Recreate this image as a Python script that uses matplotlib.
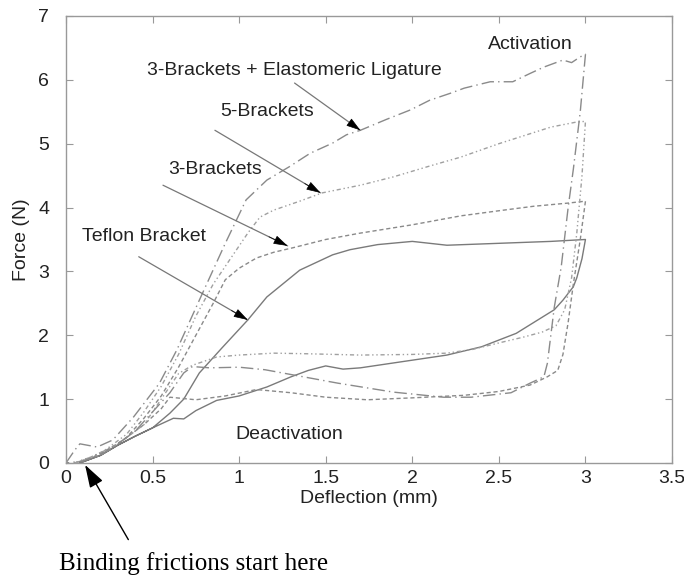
import matplotlib
matplotlib.use('Agg')
import matplotlib.pyplot as plt

# Teflon bracket (solid): activation then deactivation
teflon_x = [0.08, 0.2, 0.3, 0.4, 0.5, 0.6, 0.68, 0.77, 0.9, 1.05, 1.16, 1.35, 1.54,
            1.64, 1.8, 2.0, 2.2, 2.5, 2.8, 3.0,
            2.98, 2.95, 2.93, 2.87, 2.82, 2.6, 2.4, 2.2, 1.9, 1.7, 1.6, 1.5, 1.4,
            1.3, 1.16, 1.0, 0.87, 0.75, 0.68, 0.62, 0.5, 0.4, 0.3, 0.2, 0.08]
teflon_f = [0.0, 0.12, 0.28, 0.42, 0.55, 0.78, 1.0, 1.41, 1.8, 2.24, 2.6, 3.02, 3.26,
            3.34, 3.42, 3.47, 3.41, 3.44, 3.47, 3.5,
            3.2, 2.9, 2.76, 2.55, 2.4, 2.03, 1.82, 1.69, 1.57, 1.49, 1.47, 1.52, 1.45,
            1.35, 1.19, 1.05, 0.98, 0.82, 0.69, 0.7, 0.55, 0.42, 0.28, 0.12, 0.0]

# 3 brackets (short dashes)
three_x = [0.05, 0.2, 0.35, 0.45, 0.55, 0.65, 0.75, 0.85, 0.92, 1.0, 1.1, 1.2, 1.31,
           1.5, 1.7, 2.0, 2.28, 2.5, 2.7, 2.9, 3.0,
           2.97, 2.93, 2.9, 2.87, 2.84, 2.78, 2.68, 2.5, 2.3, 2.0, 1.74, 1.5, 1.3,
           1.1, 0.92, 0.75, 0.6, 0.55, 0.45, 0.3, 0.15, 0.05]
three_f = [0.0, 0.12, 0.4, 0.7, 1.05, 1.5, 2.0, 2.5, 2.87, 3.05, 3.21, 3.3, 3.37,
           3.5, 3.6, 3.73, 3.87, 3.95, 4.02, 4.07, 4.1,
           3.5, 2.8, 2.2, 1.7, 1.45, 1.35, 1.22, 1.12, 1.06, 1.02, 0.99, 1.03, 1.1,
           1.15, 1.05, 0.99, 1.03, 0.85, 0.6, 0.3, 0.08, 0.0]

# 5 brackets (dash-dot-dot)
five_x = [0.05, 0.2, 0.35, 0.45, 0.55, 0.65, 0.75, 0.85, 0.95, 1.05, 1.12, 1.2, 1.35,
          1.48, 1.7, 1.89, 2.1, 2.28, 2.5, 2.65, 2.8, 2.95, 3.0,
          2.98, 2.95, 2.92, 2.88, 2.83, 2.75, 2.64, 2.5, 2.35, 2.2, 2.0, 1.7, 1.4,
          1.2, 1.0, 0.87, 0.73, 0.65, 0.55, 0.45, 0.3, 0.15, 0.05]
five_f = [0.0, 0.15, 0.45, 0.8, 1.2, 1.7, 2.3, 2.8, 3.2, 3.6, 3.85, 3.96, 4.1,
          4.23, 4.35, 4.48, 4.65, 4.79, 5.0, 5.13, 5.26, 5.34, 5.35,
          4.5, 3.6, 2.9, 2.4, 2.15, 2.05, 1.97, 1.88, 1.78, 1.72, 1.7, 1.69, 1.71,
          1.72, 1.69, 1.66, 1.53, 1.4, 1.0, 0.6, 0.3, 0.1, 0.0]

# 3 brackets + elastomeric ligature (long dash-dot)
elast_x = [0.0, 0.05, 0.08, 0.12, 0.18, 0.27, 0.39, 0.54, 0.64, 0.77, 0.92, 1.04,
           1.16, 1.29, 1.41, 1.54, 1.62, 1.7, 1.85, 1.99, 2.1, 2.22, 2.3, 2.45,
           2.58, 2.68, 2.76, 2.87, 2.92, 2.97, 3.0,
           2.97, 2.93, 2.9, 2.86, 2.82, 2.78, 2.76, 2.68, 2.57, 2.34, 2.18, 1.89,
           1.57, 1.31, 1.15, 1.0, 0.83, 0.73, 0.68, 0.6, 0.5, 0.4, 0.25, 0.1, 0.0]
elast_f = [0.0, 0.2, 0.3, 0.28, 0.25, 0.36, 0.72, 1.25, 1.77, 2.55, 3.44, 4.12,
           4.43, 4.64, 4.85, 5.01, 5.14, 5.21, 5.38, 5.53, 5.68, 5.79, 5.87, 5.97,
           5.97, 6.1, 6.2, 6.31, 6.27, 6.36, 6.4,
           5.5, 4.6, 4.0, 3.07, 2.44, 1.56, 1.35, 1.25, 1.1, 1.03, 1.03, 1.11,
           1.25, 1.38, 1.46, 1.5, 1.49, 1.51, 1.41, 1.1, 0.8, 0.5, 0.2, 0.03, 0.0]

xticks = [0, 0.5, 1, 1.5, 2, 2.5, 3, 3.5]
xtick_labels = ['0', '0.5', '1', '1.5', '2', '2.5', '3', '3.5']
yticks = [0, 1, 2, 3, 4, 5, 6, 7]


def pointer(ax, xy, xytext):
    # grey shaft with a black head, like the original figure
    ax.annotate('', xy=xy, xytext=xytext,
                arrowprops=dict(arrowstyle='-', color='#777777', lw=0.9,
                                shrinkA=0, shrinkB=0))
    dx = xy[0] - xytext[0]
    dy = xy[1] - xytext[1]
    start = (xy[0] - 0.15 * dx, xy[1] - 0.15 * dy)
    ax.annotate('', xy=xy, xytext=start,
                arrowprops=dict(arrowstyle='-|>,head_length=0.9,head_width=0.28',
                                color='black', lw=0.5, shrinkA=0, shrinkB=0))


def main():
    plt.rcParams['font.family'] = ['Liberation Sans', 'DejaVu Sans']
    fig = plt.figure(figsize=(6.84, 5.77), dpi=100)
    ax = fig.add_axes([0.0965, 0.1976, 0.886, 0.7747])

    grey = '#8a8a8a'
    ax.plot(teflon_x, teflon_f, color='#7a7a7a', lw=1.0, ls='-')
    ax.plot(three_x, three_f, color=grey, lw=1.0, ls=(0, (3, 2)))
    ax.plot(five_x, five_f, color='#a0a0a0', lw=1.0, ls=(0, (3, 2, 1, 2, 1, 2)))
    ax.plot(elast_x, elast_f, color=grey, lw=1.0, ls=(0, (9, 3, 1, 3)))

    ax.set_xlim(0, 3.5)
    ax.set_ylim(0, 7)
    ax.set_xticks(xticks)
    ax.set_xticklabels(xtick_labels)
    ax.set_yticks(yticks)
    ax.tick_params(direction='in', top=True, right=True, length=5, width=0.8,
                   color='#999999', labelsize=14, labelcolor='#222222')
    ax.tick_params(axis='x', pad=5)
    ax.tick_params(axis='y', pad=12)
    for sp in ax.spines.values():
        sp.set_color('#999999')
        sp.set_linewidth(1.0)

    ax.set_xlabel('Deflection (mm)', fontsize=14, color='#222222', labelpad=2)
    ax.set_ylabel('Force (N)', fontsize=14, color='#222222', labelpad=6)

    tsize = 14
    ax.text(1.32, 6.15, '3-Brackets + Elastomeric Ligature', fontsize=tsize,
            ha='center', va='center', color='#222222')
    pointer(ax, (1.70, 5.21), (1.32, 5.95))
    ax.text(1.16, 5.5, '5-Brackets', fontsize=tsize, ha='center', va='center',
            color='#222222')
    pointer(ax, (1.47, 4.23), (0.86, 5.21))
    ax.text(0.86, 4.6, '3-Brackets', fontsize=tsize, ha='center', va='center',
            color='#222222')
    pointer(ax, (1.28, 3.40), (0.56, 4.35))
    ax.text(0.45, 3.54, 'Teflon Bracket', fontsize=tsize, ha='center', va='center',
            color='#222222')
    pointer(ax, (1.05, 2.24), (0.42, 3.23))
    ax.text(2.68, 6.55, 'Activation', fontsize=tsize, ha='center', va='center',
            color='#222222')
    ax.text(1.29, 0.44, 'Deactivation', fontsize=tsize, ha='center', va='center',
            color='#222222')

    # binding friction note below the axes
    ax.annotate('', xy=(0.11, -0.03), xytext=(0.36, -1.2),
                arrowprops=dict(arrowstyle='-|>,head_length=1.4,head_width=0.45',
                                color='black', lw=1.0, shrinkA=0, shrinkB=0),
                annotation_clip=False)
    fig.text(59 / 684, 1 - 564 / 577, 'Binding frictions start here',
             family=['Liberation Serif', 'DejaVu Serif'], fontsize=18,
             ha='left', va='center', color='black')

    fig.savefig('out.png', dpi=100)


if __name__ == '__main__':
    main()
